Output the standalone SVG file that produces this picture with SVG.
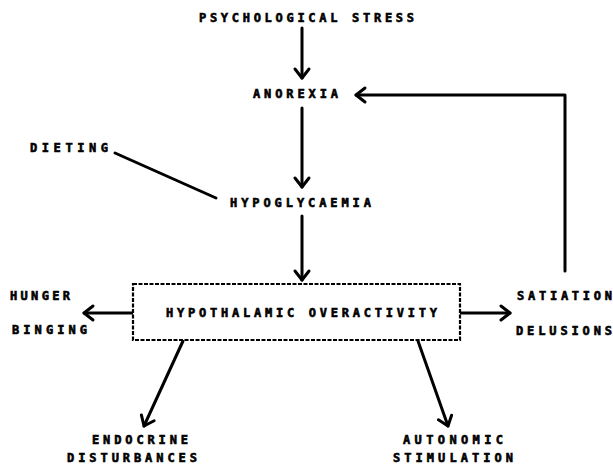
<svg xmlns="http://www.w3.org/2000/svg" width="613" height="464" viewBox="0 0 613 464">
<style>
text{font-family:"DejaVu Sans Mono","Liberation Mono",monospace;font-weight:bold;font-size:12px;fill:#000;stroke:#000;stroke-width:0.6}
.c{fill:none;stroke:#000;stroke-width:3;stroke-linecap:round;stroke-linejoin:round}
.box{fill:#fff;stroke:#000;stroke-width:2.2;stroke-dasharray:4 1.5}
</style>
<defs>
<marker id="ah" markerUnits="userSpaceOnUse" markerWidth="20" markerHeight="20" refX="12" refY="8" orient="auto" viewBox="0 0 20 16">
<path d="M3,1 L12,8 L3,15" fill="none" stroke="#000" stroke-width="3" stroke-linecap="round" stroke-linejoin="round"/>
</marker>
</defs>
<rect width="613" height="464" fill="#fff"/>
<g id="connectors">
<line class="c" x1="302" y1="28" x2="302" y2="78" marker-end="url(#ah)"/>
<line class="c" x1="302" y1="108" x2="302" y2="187" marker-end="url(#ah)"/>
<line class="c" x1="302" y1="216" x2="302" y2="280" marker-end="url(#ah)"/>
<polyline class="c" points="565,271 565,95 356,95" marker-end="url(#ah)"/>
<line class="c" x1="115" y1="153" x2="216" y2="198"/>
<line class="c" x1="133" y1="313" x2="84" y2="313" marker-end="url(#ah)"/>
<line class="c" x1="460" y1="313" x2="510" y2="313" marker-end="url(#ah)"/>
<line class="c" x1="183" y1="341" x2="144" y2="426" marker-end="url(#ah)"/>
<line class="c" x1="418" y1="341" x2="448" y2="426" marker-end="url(#ah)"/>
</g>
<g id="psychological-stress"><text x="199" y="22" textLength="215" lengthAdjust="spacing">PSYCHOLOGICAL STRESS</text></g>
<g id="anorexia"><text x="253" y="98" textLength="85" lengthAdjust="spacing">ANOREXIA</text></g>
<g id="dieting"><text x="30" y="152" textLength="78" lengthAdjust="spacing">DIETING</text></g>
<g id="hypoglycaemia"><text x="230" y="207" textLength="141" lengthAdjust="spacing">HYPOGLYCAEMIA</text></g>
<g id="hypothalamic-overactivity">
<rect class="box" x="133" y="284" width="327" height="56"/>
<text x="166" y="317" textLength="271" lengthAdjust="spacing">HYPOTHALAMIC OVERACTIVITY</text>
</g>
<g id="hunger-binging">
<text x="10" y="300" textLength="60" lengthAdjust="spacing">HUNGER</text>
<text x="12" y="334" textLength="75" lengthAdjust="spacing">BINGING</text>
</g>
<g id="satiation-delusions">
<text x="517" y="300" textLength="95" lengthAdjust="spacing">SATIATION</text>
<text x="516" y="335" textLength="96" lengthAdjust="spacing">DELUSIONS</text>
</g>
<g id="endocrine-disturbances">
<text x="92" y="444" textLength="96" lengthAdjust="spacing">ENDOCRINE</text>
<text x="67" y="462" textLength="130" lengthAdjust="spacing">DISTURBANCES</text>
</g>
<g id="autonomic-stimulation">
<text x="403" y="444" textLength="100" lengthAdjust="spacing">AUTONOMIC</text>
<text x="393" y="462" textLength="120" lengthAdjust="spacing">STIMULATION</text>
</g>
</svg>
